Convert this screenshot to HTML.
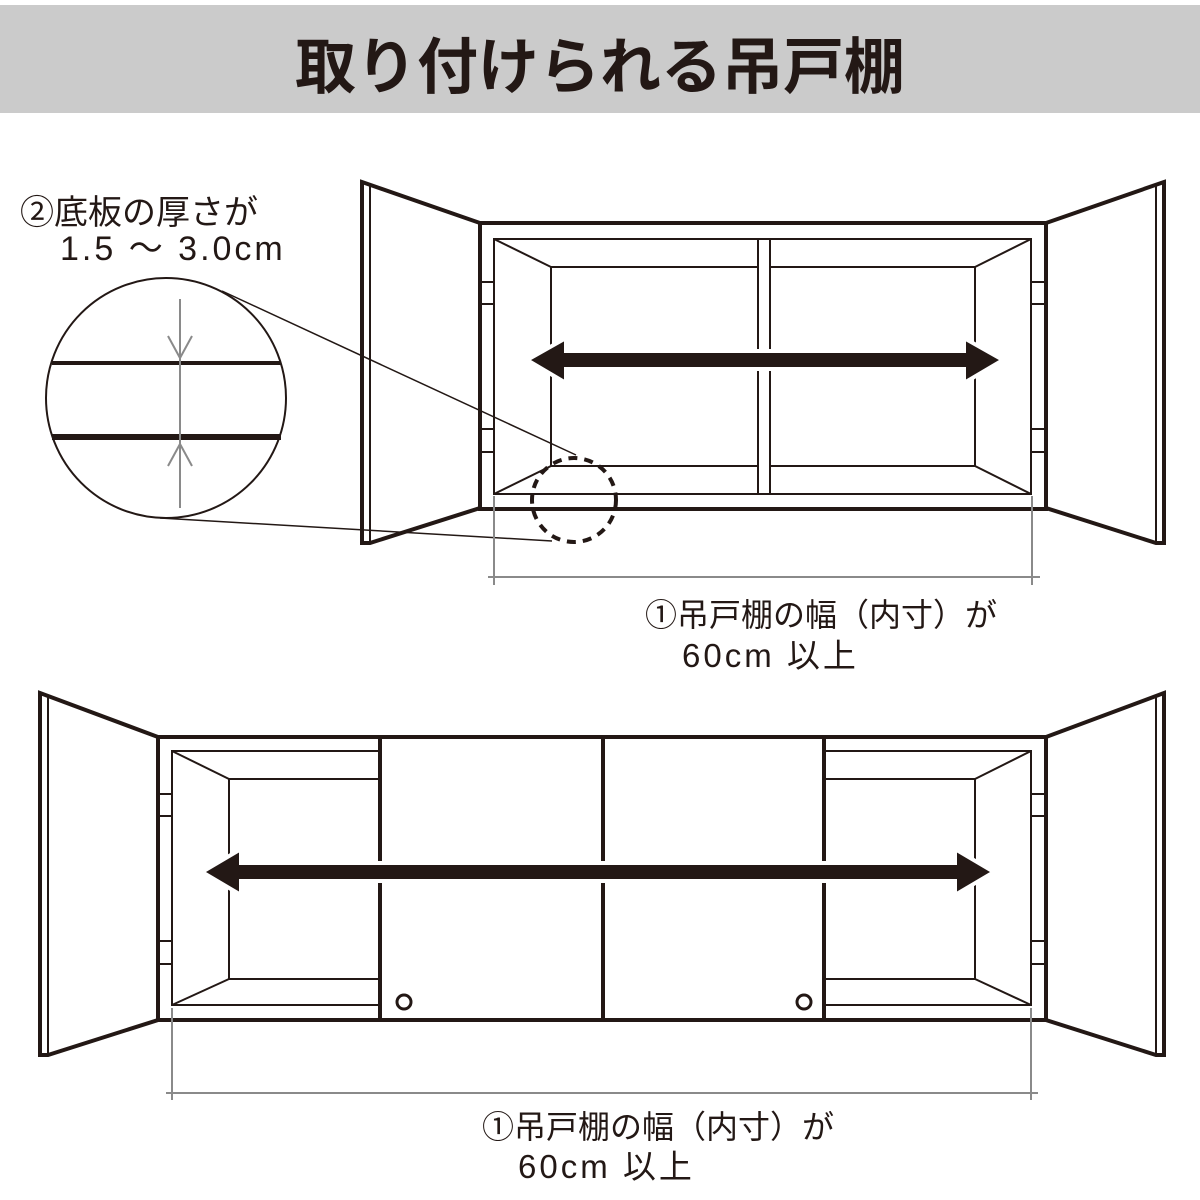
<!DOCTYPE html>
<html><head><meta charset="utf-8"><style>
html,body{margin:0;padding:0;background:#fff;width:1200px;height:1200px;overflow:hidden}
svg{display:block}
text{font-family:"Liberation Sans","Noto Sans CJK JP",sans-serif;fill:#231815}
</style></head><body>
<svg width="1200" height="1200" viewBox="0 0 1200 1200" xmlns="http://www.w3.org/2000/svg">
<rect x="0" y="5" width="1200" height="108" fill="#cbcbcb"/>
<text x="600" y="88" font-size="61" font-weight="bold" text-anchor="middle">取り付けられる吊戸棚</text>

<g stroke="#231815" fill="none">
<polygon points="362,182 480,223 480,508 370,543 362,543" stroke-width="4" fill="#fff"/>
<line x1="370" y1="184" x2="370" y2="543" stroke-width="2"/>
<polygon points="1164,182 1046,223 1046,508 1156,543 1164,543" stroke-width="4" fill="#fff"/>
<line x1="1156" y1="184" x2="1156" y2="543" stroke-width="2"/>
<rect x="480" y="223" width="566" height="286" stroke-width="4"/>
<rect x="494" y="239" width="537" height="255" stroke-width="2"/>
<rect x="551" y="267" width="424" height="199" stroke-width="2"/>
<line x1="494" y1="239" x2="551" y2="267" stroke-width="2"/>
<line x1="1031" y1="239" x2="975" y2="267" stroke-width="2"/>
<line x1="494" y1="494" x2="551" y2="466" stroke-width="2"/>
<line x1="1031" y1="494" x2="975" y2="466" stroke-width="2"/>
<rect x="758" y="239" width="12" height="255" stroke-width="2" fill="#fff"/>
<path d="M480 282H494M480 304H494M480 429H494M480 452H494M1031 282H1046M1031 304H1046M1031 429H1046M1031 452H1046" stroke-width="2"/>
<polygon points="527,360 566,338 566,351 964,351 964,338 1003,360 964,383 964,369 566,369 566,383" fill="#231815" stroke="#fff" stroke-width="4"/>
<line x1="222" y1="291" x2="576" y2="455" stroke-width="1.5"/>
<line x1="160" y1="518" x2="552" y2="541" stroke-width="1.5"/>
<circle cx="574" cy="500" r="42" stroke-width="4" stroke-dasharray="9,7" fill="none"/>
<g stroke="#8a8a8a" stroke-width="2">
<line x1="488" y1="577" x2="1040" y2="577"/>
<line x1="494" y1="496" x2="494" y2="585"/>
<line x1="1032" y1="496" x2="1032" y2="585"/>
</g>
<circle cx="166" cy="398" r="120" stroke-width="2" fill="#fff"/>
<line x1="52" y1="363" x2="281" y2="363" stroke-width="4"/>
<line x1="52" y1="437" x2="281" y2="437" stroke-width="6"/>
<g stroke="#8a8a8a" stroke-width="2">
<line x1="180" y1="299" x2="180" y2="508"/>
<path d="M168 336L180 358L192 336M168 466L180 444L192 466"/>
</g>

<polygon points="40,693 158,737 158,1020 48,1055 40,1055" stroke-width="4" fill="#fff"/>
<line x1="48" y1="695" x2="48" y2="1055" stroke-width="2"/>
<polygon points="1164,693 1046,737 1046,1020 1156,1055 1164,1055" stroke-width="4" fill="#fff"/>
<line x1="1156" y1="695" x2="1156" y2="1055" stroke-width="2"/>
<rect x="158" y="737" width="888" height="283" stroke-width="4"/>
<rect x="172" y="751" width="859" height="254" stroke-width="2"/>
<rect x="229" y="779" width="746" height="200" stroke-width="2"/>
<line x1="172" y1="751" x2="229" y2="779" stroke-width="2"/>
<line x1="1031" y1="751" x2="975" y2="779" stroke-width="2"/>
<line x1="172" y1="1005" x2="229" y2="979" stroke-width="2"/>
<line x1="1031" y1="1005" x2="975" y2="979" stroke-width="2"/>
<path d="M158 794H172M158 816H172M158 941H172M158 964H172M1031 794H1046M1031 816H1046M1031 941H1046M1031 964H1046" stroke-width="2"/>
<rect x="380" y="737" width="223" height="283" stroke-width="4" fill="#fff"/>
<rect x="603" y="737" width="221" height="283" stroke-width="4" fill="#fff"/>
<circle cx="404" cy="1002" r="7" stroke-width="3"/>
<circle cx="804" cy="1002" r="7" stroke-width="3"/>
<polygon points="202,872 241,849 241,863 955,863 955,849 994,872 955,895 955,881 241,881 241,895" fill="#231815" stroke="#fff" stroke-width="4"/>
<g stroke="#8a8a8a" stroke-width="2">
<line x1="166" y1="1093" x2="1038" y2="1093"/>
<line x1="172" y1="1008" x2="172" y2="1100"/>
<line x1="1031" y1="1008" x2="1031" y2="1100"/>
</g>
</g>

<text x="20" y="224" font-size="34">②底板の厚さが</text>
<text x="60" y="260" font-size="34" letter-spacing="3">1.5 ～ 3.0cm</text>
<text x="645" y="626" font-size="32">①吊戸棚の幅（内寸）が</text>
<text x="682" y="667" font-size="33" letter-spacing="3">60cm 以上</text>
<text x="482" y="1138" font-size="32">①吊戸棚の幅（内寸）が</text>
<text x="518" y="1178" font-size="33" letter-spacing="3">60cm 以上</text>
</svg>
</body></html>
